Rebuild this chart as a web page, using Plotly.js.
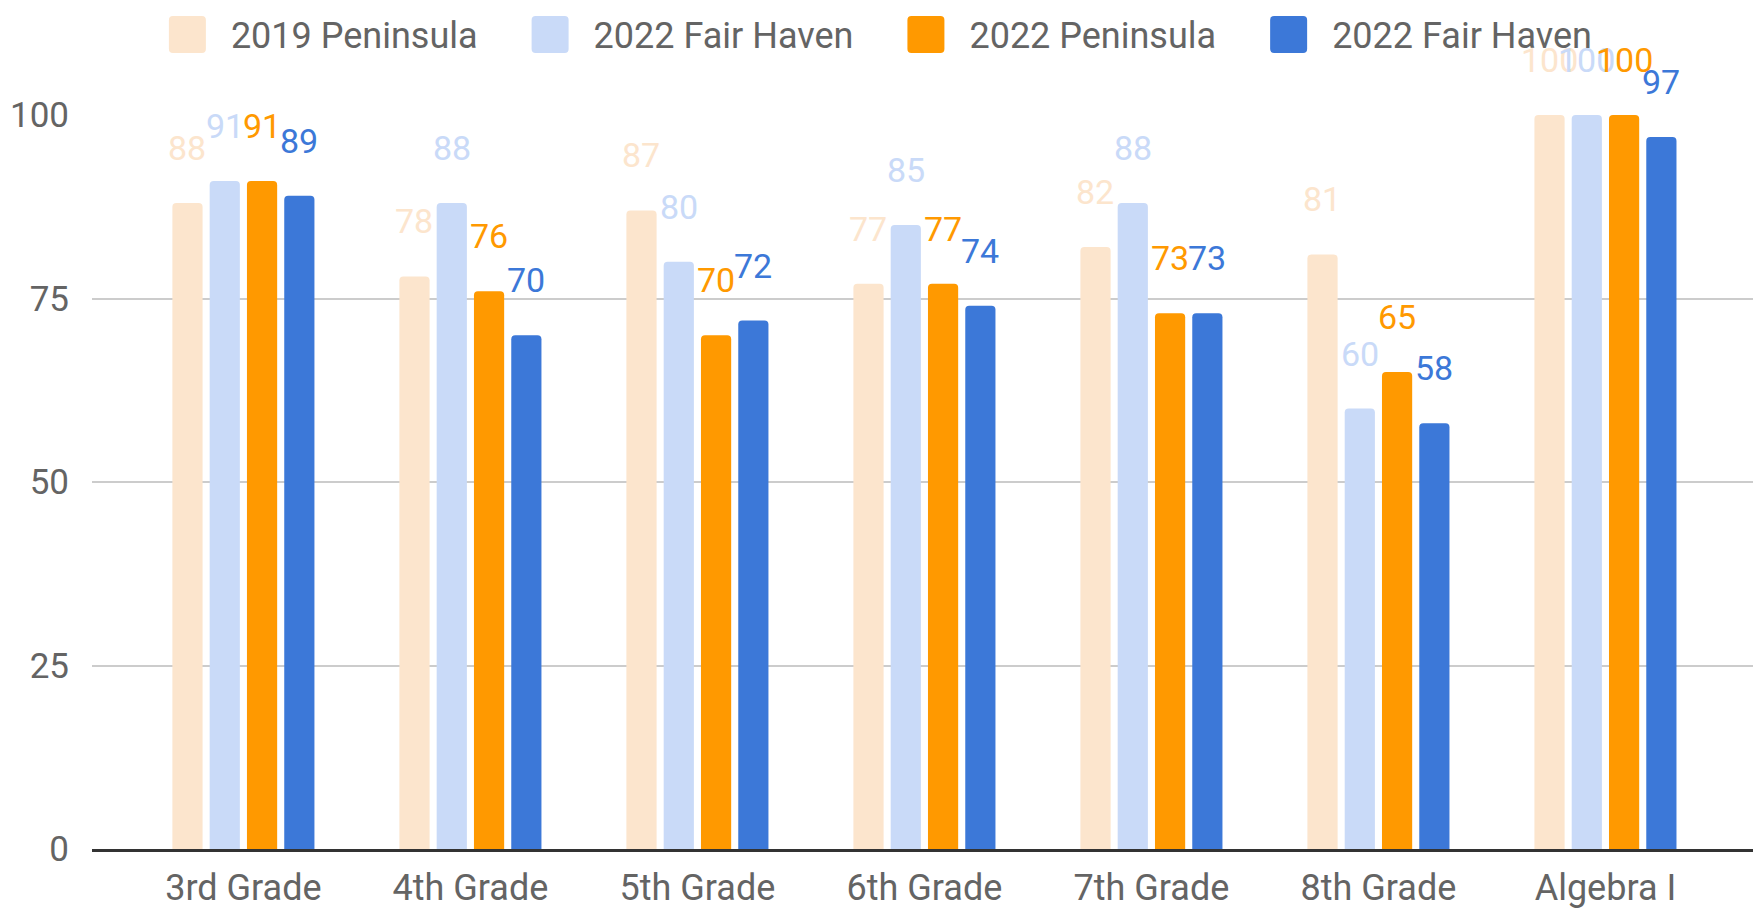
<!DOCTYPE html>
<html>
<head>
<meta charset="utf-8">
<script src="https://cdn.plot.ly/plotly-3.0.1.min.js"></script>
<style>
  html, body { margin: 0; padding: 0; background: #ffffff; }
  #chart { width: 1763px; height: 910px; }
</style>
</head>
<body>
<div id="chart"></div>
<script>
// Categories and series values
const categories = ["3rd Grade", "4th Grade", "5th Grade", "6th Grade", "7th Grade", "8th Grade", "Algebra I"];
const seriesNames = ["2019 Peninsula", "2022 Fair Haven", "2022 Peninsula", "2022 Fair Haven"];
const seriesColors = ["#fce5cd", "#c9daf8", "#ff9900", "#3c78d8"];

const peninsula2019 = [88, 78, 87, 77, 82, 81, 100];
const fairHaven2022Light = [91, 88, 80, 85, 88, 60, 100];
const peninsula2022 = [91, 76, 70, 77, 73, 65, 100];
const fairHaven2022 = [89, 70, 72, 74, 73, 58, 97];

const yTicks = [0, 25, 50, 75, 100];

const seriesValues = [peninsula2019, fairHaven2022Light, peninsula2022, fairHaven2022];

const fontFamily = "Roboto, 'Noto Sans', sans-serif";
const textColor = "#646464";

const traces = seriesValues.map((vals, i) => ({
    type: "bar",
    x: categories,
    y: vals,
    name: seriesNames[i],
    marker: { color: seriesColors[i], cornerradius: 4, line: { width: 0 } },
    hoverinfo: "x+y+name",
}));

// value labels sit a fixed distance above each bar, centred on it
const barPitch = 37.3;
const annotations = [];
seriesValues.forEach((vals, i) => {
    vals.forEach((v, j) => {
        annotations.push({
            x: categories[j],
            y: v,
            xref: "x",
            yref: "y",
            text: String(v),
            showarrow: false,
            xshift: (i - 1.5) * barPitch,
            yshift: 55,
            yanchor: "middle",
            font: { family: fontFamily, size: 34, color: seriesColors[i] },
        });
    });
});

const layout = {
    width: 1763,
    height: 910,
    margin: { l: 92, r: 10, t: 115, b: 61, pad: 0 },
    paper_bgcolor: "#ffffff",
    plot_bgcolor: "#ffffff",
    font: { family: fontFamily, size: 34, color: textColor },
    barmode: "group",
    bargap: 0.343,
    bargroupgap: 0.19,
    showlegend: true,
    legend: {
        orientation: "h",
        xref: "container",
        yref: "container",
        x: 0.068,
        xanchor: "left",
        y: 0.995,
        yanchor: "top",
        itemwidth: 101,
        font: { family: fontFamily, size: 36, color: textColor },
        bgcolor: "rgba(0,0,0,0)",
    },
    xaxis: {
        type: "category",
        range: [-0.667, 6.65],
        showgrid: false,
        zeroline: false,
        showline: true,
        linecolor: "#333333",
        linewidth: 3,
        ticks: "",
        ticklabelstandoff: 5,
        tickfont: { family: fontFamily, size: 36, color: textColor },
        fixedrange: true,
    },
    yaxis: {
        range: [0, 100],
        tickvals: yTicks,
        ticktext: yTicks.map(String),
        showgrid: true,
        gridcolor: "#cccccc",
        gridwidth: 2,
        zeroline: false,
        showline: false,
        ticks: "",
        ticklabelstandoff: 22,
        tickfont: { family: fontFamily, size: 35, color: textColor },
        fixedrange: true,
    },
    annotations: annotations,
};

const config = { displayModeBar: false, responsive: false };

// big rounded legend swatches like the original, nudged right towards the text
const swatchPath = "M-2.5,-18.5H26.5A4,4 0 0 1 30.5,-14.5V14.5A4,4 0 0 1 26.5,18.5H-2.5A4,4 0 0 1 -6.5,14.5V-14.5A4,4 0 0 1 -2.5,-18.5Z";

Plotly.newPlot("chart", traces, layout, config).then((gd) => {
    gd.querySelectorAll(".legend .legendpoints path").forEach((p) => {
        p.setAttribute("d", swatchPath);
    });
});
</script>
</body>
</html>
